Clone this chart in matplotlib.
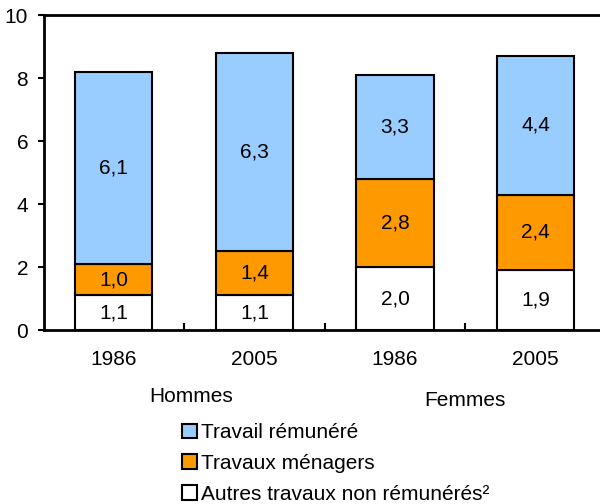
import matplotlib.pyplot as plt
from matplotlib.patches import Patch

plt.rcParams['font.family'] = ['Liberation Sans', 'DejaVu Sans']

years = ["1986", "2005", "1986", "2005"]
groups = ["Hommes", "Femmes"]
autres = [1.1, 1.1, 2.0, 1.9]
menagers = [1.0, 1.4, 2.8, 2.4]
remunere = [6.1, 6.3, 3.3, 4.4]
series_names = ["Travail rémunéré", "Travaux ménagers", "Autres travaux non rémunérés²"]
colors = ["#99CCFF", "#FF9900", "#FFFFFF"]

fs = 15

fig = plt.figure(figsize=(6, 5.04), dpi=100)
ax = fig.add_axes([0.0725, 0.345, 0.9375, 0.625])

x = list(range(len(years)))
bottom2 = [a + m for a, m in zip(autres, menagers)]

# stacked bars, bottom to top
b1 = ax.bar(x, autres, width=0.55, color=colors[2], edgecolor="black", linewidth=1.5)
b2 = ax.bar(x, menagers, width=0.55, bottom=autres, color=colors[1], edgecolor="black", linewidth=1.5)
b3 = ax.bar(x, remunere, width=0.55, bottom=bottom2, color=colors[0], edgecolor="black", linewidth=1.5)

for bars, vals in [(b1, autres), (b2, menagers), (b3, remunere)]:
    ax.bar_label(bars, labels=[f"{v:.1f}".replace(".", ",") for v in vals],
                 label_type="center", fontsize=fs)

ax.set_xlim(-0.5, 3.5)
ax.set_ylim(0, 10)
ax.set_yticks([0, 2, 4, 6, 8, 10])
ax.tick_params(axis="y", direction="out", length=4, width=1.5, labelsize=fs, pad=7)

ax.set_xticks(x)
ax.set_xticklabels(years)
ax.tick_params(axis="x", which="major", length=0, labelsize=fs, pad=14)
ax.set_xticks([0.5, 1.5, 2.5, 3.5], minor=True)
ax.tick_params(axis="x", which="minor", direction="in", length=5, width=1.5)

for s in ["left", "bottom", "top"]:
    ax.spines[s].set_linewidth(2)
ax.spines["right"].set_visible(False)

# group labels
ax.text(0.55, -2.1, groups[0], ha="center", va="center", fontsize=fs, clip_on=False)
ax.text(2.5, -2.25, groups[1], ha="center", va="center", fontsize=fs, clip_on=False)

handles = [Patch(facecolor=c, edgecolor="black", linewidth=1.5) for c in colors]
fig.legend(handles, series_names, loc="upper left", bbox_to_anchor=(0.29, 0.177),
           frameon=False, fontsize=fs, handlelength=0.7, handleheight=0.7,
           handletextpad=0.2, labelspacing=0.57, borderaxespad=0)

fig.savefig("out.png", dpi=100)
